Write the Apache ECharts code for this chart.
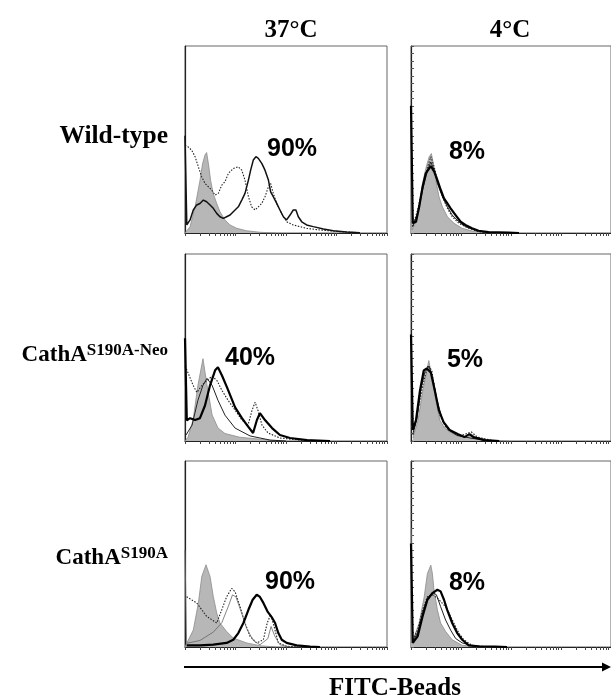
<!DOCTYPE html>
<html><head><meta charset="utf-8">
<script src="https://cdn.jsdelivr.net/npm/echarts@6/dist/echarts.min.js"></script>
<style>html,body{margin:0;padding:0;background:#fff}#c{width:611px;height:699px}</style>
</head><body><div id="c"></div><script>
// ---- labels ----
const columnTitles = ['37°C', '4°C'];
const rowNames = ['Wild-type', 'CathA', 'CathA'];
const rowSups = ['', 'S190A-Neo', 'S190A'];
const percents = ['90%', '8%', '40%', '5%', '90%', '8%'];
const axisTitle = 'FITC-Beads';

// ---- histogram data: [channel (0-1000, 4-decade log scale), relative count] ----
// Wild-type 37°C
const wt37Ctrl = [[0,0],[5,0.2],[25,3.4],[50,14],[74,28],[87,37],[99,41.7],[107,43],[116,37],[127,28],[140,21],[157,15.8],[173,11.4],[198,7],[223,4.3],[256,2.5],[305,1.2],[371,0.4],[450,0]];
const wt37Dot = [[0,47],[16,46],[33,44.3],[50,40.8],[66,35.4],[83,30],[99,26.5],[116,24.7],[132,23],[149,20.3],[165,21.2],[182,25.6],[198,27.4],[215,31.9],[239,34.5],[264,35.4],[281,33.6],[297,28.3],[314,19.4],[330,14],[347,12.3],[363,14],[380,15.8],[396,19.4],[413,24.7],[424,26.5],[437,21.2],[454,15.8],[470,12.3],[487,8.7],[503,6],[536,4.3],[569,3.4],[602,2.5],[668,1.6],[767,0.7],[866,0.2]];
const wt37Thin = [[0,52],[7,52],[9,4.3],[25,7],[41,12.3],[58,15],[74,15.8],[91,17.6],[107,16.7],[124,15],[140,13.2],[157,10.5],[173,8.7],[190,7.8],[206,8.7],[223,9.6],[239,11.4],[264,14],[281,17.6],[297,21.2],[314,28.3],[325,33.6],[338,39],[351,40.8],[363,39.9],[380,37.2],[396,33.6],[413,28.3],[424,22],[437,19.4],[454,15.8],[470,12.3],[487,8.7],[503,7],[520,9.6],[536,12.3],[549,12.3],[561,8.7],[578,6],[602,4.3],[635,3.4],[685,2.1],[734,1.2],[800,0.5],[866,0.2]];
const wt37Thick = [];
// Wild-type 4°C
const wt4Ctrl = [[0,35.4],[4,35.4],[5,1.6],[25,6],[41,15.8],[58,26.5],[74,34.5],[91,40.8],[102,42.5],[110,38],[124,28.3],[140,19.4],[157,14],[182,8.7],[215,5.2],[256,2.5],[305,1.1],[371,0.2],[450,0]];
const wt4Dot = [[8,3.4],[33,12.3],[58,24.7],[83,35.4],[99,40.8],[116,35.4],[132,28.3],[157,19.4],[182,13.2],[206,8.7],[239,5.2],[289,2.5],[338,0.7],[400,0]];
const wt4Thin = [[8,3.4],[33,10.5],[58,23],[83,33.6],[99,38],[116,33.6],[132,26.5],[157,19.4],[182,14],[206,9.6],[239,6],[272,3.4],[322,1.6],[371,0.5],[430,0]];
const wt4Thick = [[0,68],[7,68],[9,5.2],[25,6],[41,14],[58,24.7],[74,31.9],[91,34.5],[99,35.8],[116,32.8],[132,28.3],[149,23],[165,18.5],[182,15.8],[198,13.2],[223,9.6],[248,6],[272,4.3],[305,2.5],[338,1.2],[388,0.5],[437,0.4],[487,0.2],[540,0]];
// CathA S190A-Neo 37°C
const neo37Ctrl = [[0,0],[15,2],[40,11.2],[64,29.8],[89,44],[109,29.8],[134,14],[163,7],[198,4],[272,2],[371,1],[450,0]];
const neo37Dot = [[0,40],[10,37.8],[40,29.8],[59,26],[84,29.8],[109,32.4],[134,34.6],[158,32.4],[183,27],[213,21.8],[248,16.5],[282,11.2],[312,8.5],[332,16.5],[347,20.7],[361,16.5],[381,8.5],[411,4.3],[470,1.6],[569,0.5],[718,0]];
const neo37Thin = [[5,3.2],[35,8.5],[64,21.8],[89,29.8],[109,33.5],[134,29.8],[163,21.8],[198,13.8],[248,6.9],[322,2.7],[421,0.5],[500,0]];
const neo37Thick = [[0,55],[7,55],[9,11],[25,12.2],[50,11.2],[74,12.2],[99,19],[124,29.8],[149,37.8],[163,39.4],[183,35],[208,28.7],[248,18],[282,12.2],[307,8.5],[337,4.3],[356,11.2],[371,14.9],[396,11.2],[431,6.9],[470,3.2],[520,1.6],[604,0.5],[718,0]];
// CathA S190A-Neo 4°C
const neo4Ctrl = [[10,1.6],[35,11.2],[59,27],[79,37.8],[89,43],[104,35],[124,21.8],[144,11.2],[168,6.9],[193,4.8],[233,2.7],[282,2.1],[302,3.7],[322,2.1],[391,0.5],[490,0]];
const neo4Dot = [[10,3.2],[35,16.5],[59,29.8],[84,40.4],[104,37.8],[124,24.5],[144,13.8],[173,7.4],[208,4.8],[243,2.7],[302,4.8],[332,2.1],[416,0]];
const neo4Thin = [[10,4],[30,12],[50,28],[70,37],[90,40],[110,33],[130,22],[155,12],[185,6],[230,3],[300,1.5],[400,0]];
const neo4Thick = [[0,57],[7,57],[9,5.9],[25,11.2],[45,27],[64,37.8],[79,38.8],[99,36.7],[119,27],[139,16.5],[163,10.1],[193,5.9],[233,3.7],[267,2.1],[292,3.7],[312,2.1],[366,0.5],[441,0]];
// CathA S190A 37°C
const s37Ctrl = [[0,0],[8,1.9],[41,9.1],[66,23.5],[83,37.9],[104,44.2],[124,37.9],[140,27.2],[157,18.3],[173,12.9],[206,8.4],[239,4.8],[305,2.2],[371,0.7],[450,0]];
const s37Dot = [[8,27],[58,23.7],[107,16.5],[157,12.9],[182,20],[206,27],[231,31.5],[248,29.7],[272,21.9],[297,12.9],[322,5.7],[355,2.2],[388,3.9],[407,12.9],[424,17.4],[441,11.1],[462,2.2],[503,0.4],[560,0]];
const s37Thin = [[0,52],[6,52],[8,2],[74,3.5],[140,8],[182,13],[215,22],[235,28],[252,27],[278,19],[305,10],[338,3.5],[371,1.2],[410,4.5],[426,11],[444,6],[470,1.2],[520,0]];
const s37Thick = [[8,0.9],[74,0.9],[140,1.3],[206,2.2],[239,3.9],[264,7.5],[289,12.9],[314,20],[335,25.4],[355,28.1],[371,26.9],[388,23.7],[408,19.2],[429,16.1],[446,12.9],[462,7.5],[479,3.9],[503,2.2],[553,0.9],[619,0.2],[668,0]];
// CathA S190A 4°C
const s4Ctrl = [[0,63.6],[4,63.6],[5,2.2],[41,12.9],[66,27],[82,39.5],[99,44],[107,39.5],[115,30.5],[132,20],[148,12.9],[173,8.4],[206,3.9],[256,0.9],[322,0.4],[400,0]];
const s4Dot = [[8,3.9],[33,9.1],[58,20],[82,27],[107,28.1],[132,26.3],[157,23.5],[173,21.7],[198,16.5],[214,12.9],[239,7.5],[264,3.9],[305,0.9],[371,0.2]];
const s4Thin = [[8,3],[33,7.5],[58,18.3],[82,26.3],[107,29.3],[127,28.1],[148,21.7],[173,14.5],[198,9.1],[223,4.6],[256,2.2],[305,0.7],[360,0]];
const s4Thick = [[0,55.6],[7,55.6],[9,2.2],[33,5.7],[58,16.5],[82,25.4],[107,29],[132,30.8],[148,29.9],[165,25.4],[181,20],[206,12.9],[231,7.5],[256,3.9],[289,0.9],[338,0.4],[421,0.2],[480,0]];

const panels = [
  {ctrl: wt37Ctrl, dot: wt37Dot, thin: wt37Thin, thick: wt37Thick, thinW: 1.5, thinC: '#111'},
  {ctrl: wt4Ctrl, dot: wt4Dot, thin: wt4Thin, thick: wt4Thick, thinW: 1, thinC: '#222'},
  {ctrl: neo37Ctrl, dot: neo37Dot, thin: neo37Thin, thick: neo37Thick, thinW: 1, thinC: '#222'},
  {ctrl: neo4Ctrl, dot: neo4Dot, thin: neo4Thin, thick: neo4Thick, thinW: 1, thinC: '#222'},
  {ctrl: s37Ctrl, dot: s37Dot, thin: s37Thin, thick: s37Thick, thinW: 0.8, thinC: '#666'},
  {ctrl: s4Ctrl, dot: s4Dot, thin: s4Thin, thick: s4Thick, thinW: 1, thinC: '#222'}
];

// ---- layout ----
const colLeft = [185, 411];
const rowTop = [46, 254, 461];
const rowH = [187, 187, 186];
const panelW = 202;

const logTicks = [];
for (let d = 0; d < 4; d++) for (let k = 1; k <= 9; k++) logTicks.push(250 * (d + Math.log10(k)));
logTicks.push(1000);

const grids = [], xAxes = [], yAxes = [], series = [];
panels.forEach((p, i) => {
  const r = Math.floor(i / 2), c = i % 2;
  grids.push({left: colLeft[c], top: rowTop[r], width: panelW, height: rowH[r],
    show: true, borderColor: '#666', borderWidth: 1, backgroundColor: 'transparent'});
  xAxes.push({gridIndex: i, type: 'value', min: 0, max: 1000,
    axisLine: {show: true, onZero: false, lineStyle: {color: '#222', width: 1.2}},
    axisTick: {show: true, customValues: logTicks, length: 3, inside: false, lineStyle: {color: '#444', width: 1}},
    axisLabel: {show: false}, splitLine: {show: false}});
  yAxes.push({gridIndex: i, type: 'value', min: 0, max: 100, interval: 4,
    axisLine: {show: true, onZero: false, lineStyle: {color: '#222', width: 1.2}},
    axisTick: {show: c === 1, inside: true, length: 3, lineStyle: {color: '#555', width: 1}},
    axisLabel: {show: false}, splitLine: {show: false}});
  const base = {type: 'line', xAxisIndex: i, yAxisIndex: i, symbol: 'none', smooth: false, clip: true, silent: true};
  series.push(Object.assign({}, base, {name: 'control', data: p.ctrl, z: 1,
    lineStyle: {color: '#8c8c8c', width: 0.8}, areaStyle: {color: '#b7b7b7', opacity: 1}}));
  series.push(Object.assign({}, base, {name: 'dotted', data: p.dot, z: 2,
    lineStyle: {color: '#222', width: 1.1, type: [1.5, 1.5]}}));
  series.push(Object.assign({}, base, {name: 'thin', data: p.thin, z: 3,
    lineStyle: {color: p.thinC, width: p.thinW}}));
  if (p.thick.length) series.push(Object.assign({}, base, {name: 'thick', data: p.thick, z: 4,
    lineStyle: {color: '#000', width: 2.2}}));
});

const serif = '"Liberation Serif", "Times New Roman", serif';
const sans = '"Liberation Sans", Arial, sans-serif';
const graphics = [];
const colCenters = [291, 510];
columnTitles.forEach((t, c) => graphics.push({type: 'text', x: colCenters[c], y: 31,
  style: {text: t, font: 'bold 25px ' + serif, fill: '#000', align: 'center', verticalAlign: 'middle'}}));
const rowLabelY = [136, 355, 558];
rowNames.forEach((n, r) => {
  const text = rowSups[r] ? '{a|' + n + '}{b|' + rowSups[r] + '}' : '{w|' + n + '}';
  graphics.push({type: 'text', x: 168, y: rowLabelY[r], style: {text: text, align: 'right', verticalAlign: 'middle', fill: '#000',
    rich: {
      w: {fontFamily: serif, fontWeight: 'bold', fontSize: 25.5, lineHeight: 26, verticalAlign: 'bottom'},
      a: {fontFamily: serif, fontWeight: 'bold', fontSize: 23, lineHeight: 24, verticalAlign: 'bottom'},
      b: {fontFamily: serif, fontWeight: 'bold', fontSize: 17, lineHeight: 18, verticalAlign: 'bottom', padding: [0, 0, 8, 0]}
    }}});
});
const pctPos = [[292,149],[467,152],[250,358],[465,360],[290,582],[467,583]];
percents.forEach((t, i) => graphics.push({type: 'text', x: pctPos[i][0], y: pctPos[i][1],
  style: {text: t, font: 'bold 25px ' + sans, fill: '#000', align: 'center', verticalAlign: 'middle'}}));
graphics.push({type: 'line', shape: {x1: 184, y1: 667, x2: 604, y2: 667}, style: {stroke: '#000', lineWidth: 2}});
graphics.push({type: 'polygon', shape: {points: [[602, 662.5], [611, 667], [602, 671.5]]}, style: {fill: '#000'}});
graphics.push({type: 'text', x: 395, y: 689, style: {text: axisTitle, font: 'bold 25px ' + serif, fill: '#000', align: 'center', verticalAlign: 'middle'}});

const chart = echarts.init(document.getElementById('c'), null, {renderer: 'canvas'});
chart.setOption({animation: false, backgroundColor: '#fff', grid: grids, xAxis: xAxes, yAxis: yAxes, series: series, graphic: graphics});
</script></body></html>
